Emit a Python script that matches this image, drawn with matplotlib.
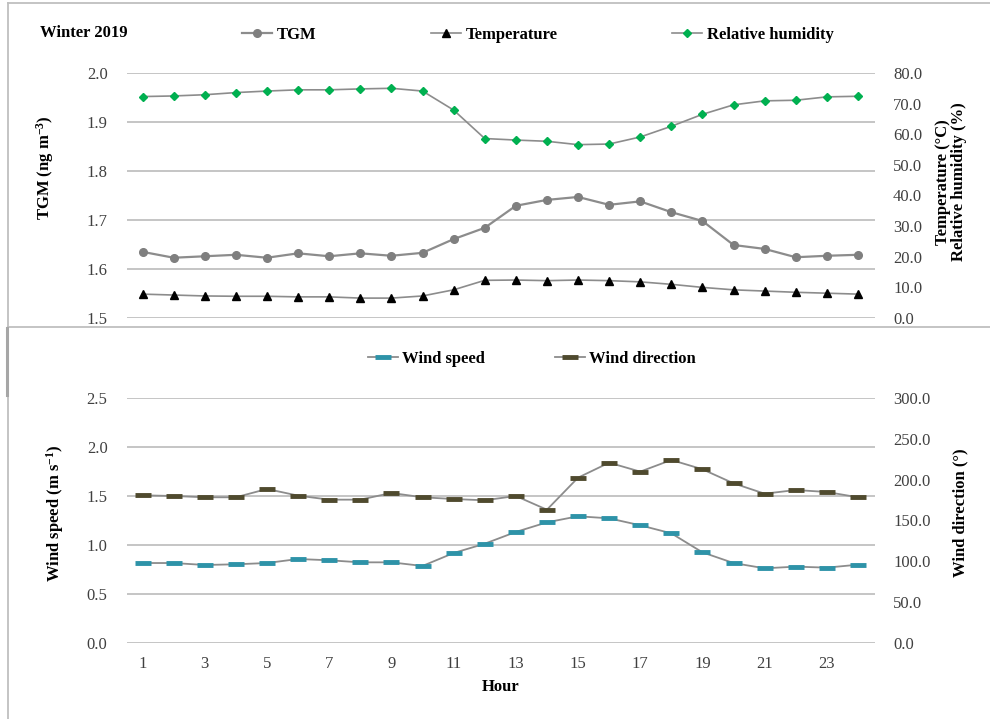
import matplotlib
matplotlib.use("Agg")
import matplotlib.pyplot as plt
from matplotlib.lines import Line2D

plt.rcParams['font.family'] = ['Liberation Serif', 'DejaVu Serif']
plt.rcParams['mathtext.default'] = 'regular'

hours = list(range(1, 25))
tgm = [1.635, 1.623, 1.626, 1.629, 1.623, 1.632, 1.626, 1.632, 1.627, 1.633, 1.661, 1.684,
       1.729, 1.741, 1.747, 1.731, 1.738, 1.716, 1.698, 1.649, 1.641, 1.624, 1.627, 1.629]
temperature = [7.8, 7.5, 7.2, 7.1, 7.1, 6.9, 6.9, 6.5, 6.5, 7.2, 9.2, 12.3,
               12.4, 12.2, 12.4, 12.2, 11.8, 11.0, 10.0, 9.2, 8.8, 8.4, 8.1, 7.8]
humidity = [72.3, 72.5, 72.9, 73.6, 74.1, 74.5, 74.5, 74.8, 75.0, 74.1, 67.9, 58.6,
            58.1, 57.7, 56.6, 56.8, 59.1, 62.6, 66.5, 69.6, 70.9, 71.1, 72.2, 72.4]
wind_speed = [0.816, 0.816, 0.796, 0.803, 0.816, 0.857, 0.844, 0.823, 0.823, 0.786, 0.918, 1.013,
              1.133, 1.231, 1.293, 1.272, 1.201, 1.119, 0.925, 0.816, 0.762, 0.779, 0.769, 0.799]
wind_dir = [180.8, 180.0, 178.4, 178.4, 188.6, 180.4, 175.5, 175.5, 183.7, 178.4, 176.3, 174.7,
            180.0, 163.2, 202.4, 220.8, 209.8, 224.1, 212.7, 195.5, 182.8, 187.3, 184.9, 178.4]

GRID = '#c0c0c0'
LINE = '#8c8c8c'
FS = 12

fig = plt.figure(figsize=(9.9, 7.19), dpi=100)


def style(ax, right=False):
    for s in ax.spines.values():
        s.set_visible(False)
    ax.tick_params(length=0, labelsize=FS, colors='#404040')
    ax.set_xlim(0.5, 24.55)
    if right:
        ax.tick_params(axis='y', pad=13)
    else:
        ax.tick_params(axis='y', pad=14)


# top panel
ax1 = fig.add_axes([0.1283, 0.5577, 0.7556, 0.3408])
ax1b = ax1.twinx()
style(ax1)
style(ax1b, True)
ax1.set_ylim(1.5, 2.0)
ax1.set_yticks([1.5, 1.6, 1.7, 1.8, 1.9, 2.0])
ax1.set_yticklabels(['1.5', '1.6', '1.7', '1.8', '1.9', '2.0'])
ax1.grid(axis='y', color=GRID, lw=1.3)
ax1.set_axisbelow(True)
ax1.set_xticks([])
ax1b.set_ylim(0, 80)
ax1b.set_yticks(range(0, 81, 10))
ax1b.set_yticklabels([f'{v:.1f}' for v in range(0, 81, 10)])

h1, = ax1.plot(hours, tgm, color=LINE, lw=1.6, marker='o', ms=5.5, mfc='#7f7f7f', mec='#7f7f7f', label='TGM')
h2, = ax1b.plot(hours, temperature, color=LINE, lw=1.2, marker='^', ms=6, mfc='black', mec='black', label='Temperature')
h3, = ax1b.plot(hours, humidity, color=LINE, lw=1.2, marker='D', ms=4.3, mfc='#00b050', mec='#00b050', label='Relative humidity')

fig.legend(handles=[h1, h2, h3], loc='center', bbox_to_anchor=(0.5434, 0.951), ncol=3, frameon=False,
           prop={'weight': 'bold', 'size': FS}, columnspacing=6.9, handlelength=1.8, handletextpad=0.25)

# bottom panel
ax2 = fig.add_axes([0.1283, 0.1057, 0.7556, 0.3408])
ax2b = ax2.twinx()
style(ax2)
style(ax2b, True)
ax2.set_ylim(0, 2.5)
ax2.set_yticks([0, 0.5, 1.0, 1.5, 2.0, 2.5])
ax2.set_yticklabels(['0.0', '0.5', '1.0', '1.5', '2.0', '2.5'])
ax2.grid(axis='y', color=GRID, lw=1.3)
ax2.set_axisbelow(True)
ax2.set_xticks(list(range(1, 25, 2)))
ax2.tick_params(axis='x', pad=9)
ax2b.set_ylim(0, 300)
ax2b.set_yticks(range(0, 301, 50))
ax2b.set_yticklabels([f'{v:.1f}' for v in range(0, 301, 50)])

h4, = ax2.plot(hours, wind_speed, color=LINE, lw=1.3, marker='_', ms=12, mew=3.5, mec='#2e93a8', label='Wind speed')
h5, = ax2b.plot(hours, wind_dir, color=LINE, lw=1.3, marker='_', ms=12, mew=3.5, mec='#4f4a2e', label='Wind direction')

fig.legend(handles=[h4, h5], loc='center', bbox_to_anchor=(0.537, 0.5007), ncol=2, frameon=False,
           prop={'weight': 'bold', 'size': FS}, columnspacing=4.2, handlelength=1.8, handletextpad=0.25)

# texts
fig.text(40 / 990, 1 - 33 / 719, 'Winter 2019', fontsize=FS, fontweight='bold', va='center', ha='left')
fig.text(45 / 990, 1 - 168 / 719, 'TGM (ng m$^{-3}$)', rotation=90, fontsize=FS, fontweight='bold', ha='center', va='center')
fig.text(951 / 990, 1 - 182 / 719, 'Temperature (°C)\nRelative humidity (%)', rotation=90, fontsize=FS,
         fontweight='bold', ha='center', va='center', multialignment='center', linespacing=1.0)
fig.text(55 / 990, 1 - 513 / 719, 'Wind speed (m s$^{-1}$)', rotation=90, fontsize=FS, fontweight='bold', ha='center', va='center')
fig.text(960 / 990, 1 - 513 / 719, 'Wind direction (°)', rotation=90, fontsize=FS, fontweight='bold', ha='center', va='center')
fig.text(501 / 990, 1 - 687 / 719, 'Hour', fontsize=FS, fontweight='bold', ha='center', va='center')

# chart borders
W, H = 990, 719
def seg(x0, y0, x1, y1, lw=1.3, c='#bfbfbf'):
    fig.add_artist(Line2D([x0 / W, x1 / W], [1 - y0 / H, 1 - y1 / H], color=c, lw=lw))

seg(8, 3, 990, 3)
seg(8, 3, 8, 327)
seg(8, 327, 990, 327)
seg(8, 328, 8, 719)
seg(7, 328, 7, 395, lw=2.2, c='#a6a6a6')

fig.savefig('out.png', dpi=100)
